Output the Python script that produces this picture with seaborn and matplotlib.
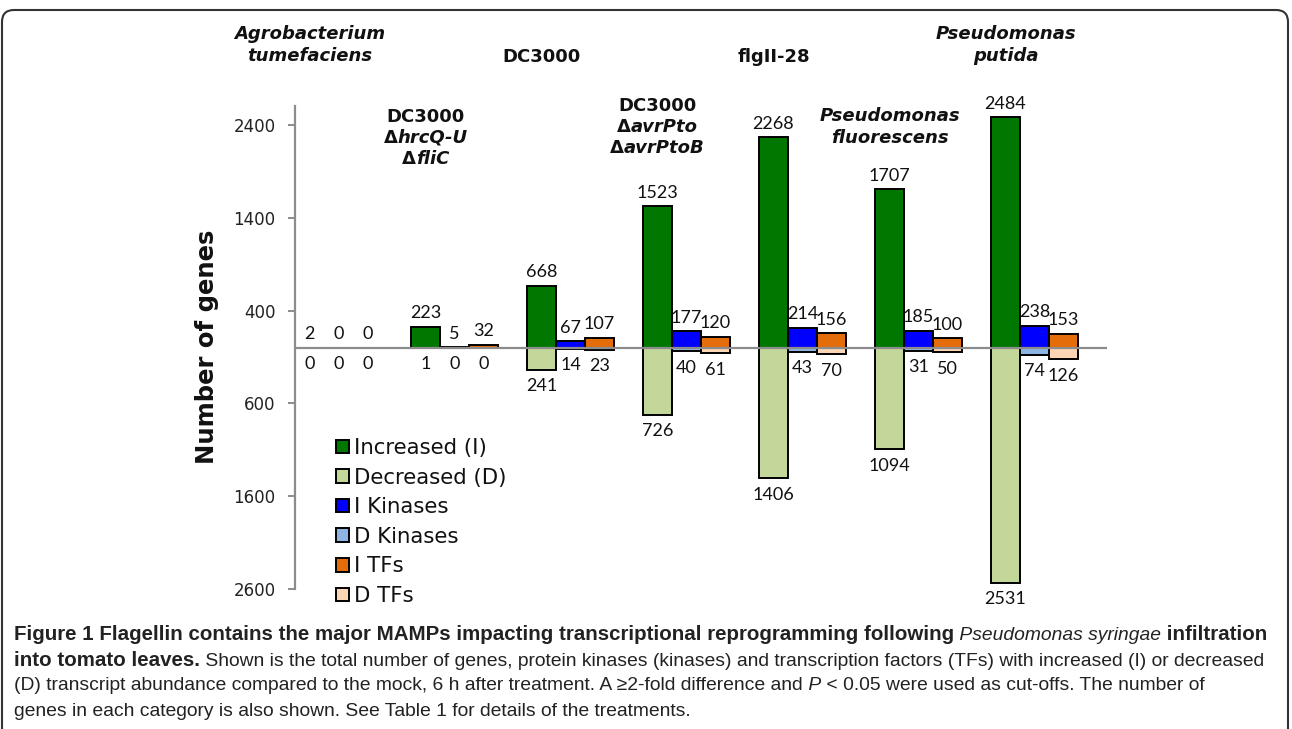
import pandas as pd
import matplotlib.pyplot as plt
import seaborn as sns
from matplotlib.patches import Patch, FancyBboxPatch
from matplotlib.transforms import IdentityTransform
from matplotlib.offsetbox import TextArea, HPacker, VPacker, AnnotationBbox

# Gene counts per treatment
treatments = ["Agrobacterium tumefaciens", "DC3000 ΔhrcQ-U ΔfliC", "DC3000",
              "DC3000 ΔavrPto ΔavrPtoB", "flgII-28", "Pseudomonas fluorescens",
              "Pseudomonas putida"]
increased = [2, 223, 668, 1523, 2268, 1707, 2484]
i_kinases = [0, 5, 67, 177, 214, 185, 238]
i_tfs = [0, 32, 107, 120, 156, 100, 153]
decreased = [0, 1, 241, 726, 1406, 1094, 2531]
d_kinases = [0, 0, 14, 40, 43, 31, 74]
d_tfs = [0, 0, 23, 61, 70, 50, 126]

up_series = ["Increased (I)", "I Kinases", "I TFs"]
down_series = ["Decreased (D)", "D Kinases", "D TFs"]
legend_order = ["Increased (I)", "Decreased (D)", "I Kinases", "D Kinases", "I TFs", "D TFs"]
colors = {"Increased (I)": "#007800", "Decreased (D)": "#c4d79b",
          "I Kinases": "#0000ff", "D Kinases": "#8db4e2",
          "I TFs": "#e46c0a", "D TFs": "#fcd5b5"}

# treatment headers: lines of (text, italic) pieces
header_lines = [
    [[("Agrobacterium", True)], [("tumefaciens", True)]],
    [[("DC3000", False)], [("Δ", False), ("hrcQ-U", True)], [("Δ", False), ("fliC", True)]],
    [[("DC3000", False)]],
    [[("DC3000", False)], [("Δ", False), ("avrPto", True)], [("Δ", False), ("avrPtoB", True)]],
    [[("flgII-28", False)]],
    [[("Pseudomonas", True)], [("fluorescens", True)]],
    [[("Pseudomonas", True)], [("putida", True)]],
]
header_y = [45, 138, 57, 127, 57, 127, 45]  # image px, block centre

caption_lines = [
    [("Figure 1 Flagellin contains the major MAMPs impacting transcriptional reprogramming following", "bold"),
     (" Pseudomonas syringae", "italic"), (" infiltration", "bold")],
    [("into tomato leaves.", "bold"),
     (" Shown is the total number of genes, protein kinases (kinases) and transcription factors (TFs) with increased (I) or decreased", "normal")],
    [("(D) transcript abundance compared to the mock, 6 h after treatment. A ≥2-fold difference and", "normal"),
     (" P", "italic"), (" < 0.05 were used as cut-offs. The number of", "normal")],
    [("genes in each category is also shown. See Table 1 for details of the treatments.", "normal")],
]

up_df = pd.DataFrame({
    "treatment": treatments * 3,
    "series": [s for s in up_series for _ in treatments],
    "value": increased + i_kinases + i_tfs,
})
down_df = pd.DataFrame({
    "treatment": treatments * 3,
    "series": [s for s in down_series for _ in treatments],
    "value": [-v for v in decreased + d_kinases + d_tfs],
})

sns.set_style("white")
plt.rcParams["font.family"] = ["DejaVu Sans"]

W, H = 1292, 729
fig = plt.figure(figsize=(W / 100, H / 100), dpi=100)
ax = fig.add_axes([295 / W, 140 / H, 812 / W, 482.6 / H])

for df, order in [(up_df, up_series), (down_df, down_series)]:
    sns.barplot(data=df, x="treatment", y="value", hue="series", order=treatments,
                hue_order=order, palette=[colors[s] for s in order], width=0.75, gap=0,
                errorbar=None, saturation=1, edgecolor="black", linewidth=1.4,
                legend=False, ax=ax)

for bar in ax.patches:
    if bar.get_height() == 0:
        bar.set_linewidth(0)

label_font = dict(family=["Lato", "DejaVu Sans"], fontsize=13, color="#111111")
for k, (cont, vals) in enumerate(zip(ax.containers,
                                     [increased, i_kinases, i_tfs, decreased, d_kinases, d_tfs])):
    for bar, v in zip(cont, vals):
        xc = bar.get_x() + bar.get_width() / 2
        h = bar.get_height()
        if k < 3:
            ax.annotate(str(v), (xc, h), xytext=(0, 4), textcoords="offset points",
                        ha="center", va="bottom", **label_font)
        else:
            ax.annotate(str(v), (xc, h), xytext=(0, -6), textcoords="offset points",
                        ha="center", va="top", **label_font)

ax.axhline(0, color="#8c8c8c", lw=1.6, zorder=5)
ax.set_xlim(-0.375, 6.625)
ax.set_ylim(-2600, 2600)
ax.set_yticks([-2600, -1600, -600, 400, 1400, 2400])
ax.set_yticklabels([str(abs(t)) for t in [-2600, -1600, -600, 400, 1400, 2400]])
ax.tick_params(axis="y", left=True, direction="out", length=5, width=1.4, color="#8c8c8c",
               pad=9, labelsize=12, labelcolor="#222222")
ax.set_xticks([])
ax.set_xlabel("")
ax.set_ylabel("")
for side in ["top", "right", "bottom"]:
    ax.spines[side].set_visible(False)
ax.spines["left"].set_color("#8c8c8c")
ax.spines["left"].set_linewidth(1.6)

fig.text(207 / W, (H - 347) / H, "Number of genes", rotation=90, ha="center", va="center",
         fontsize=17.5, fontweight="bold", color="#111111")

# treatment headers centred over the green bars
green = ax.containers[0]
for bar, lines, yy in zip(green, header_lines, header_y):
    rows = []
    for line in lines:
        pieces = [TextArea(t, textprops=dict(fontsize=13, fontweight="bold",
                                             fontstyle="italic" if it else "normal",
                                             color="#111111"))
                  for t, it in line]
        rows.append(HPacker(children=pieces, pad=0, sep=0, align="baseline"))
    box = VPacker(children=rows, pad=0, sep=2.5, align="center")
    ab = AnnotationBbox(box, (bar.get_x() + bar.get_width() / 2, H - yy),
                        xycoords=("data", "figure pixels"), frameon=False,
                        box_alignment=(0.5, 0.5), annotation_clip=False)
    ax.add_artist(ab)

handles = [Patch(facecolor=colors[s], edgecolor="black", linewidth=1.4) for s in legend_order]
fig.legend(handles, legend_order, loc="upper left", bbox_to_anchor=(336 / W, (H - 438) / H),
           frameon=False, fontsize=15.3, handlelength=0.6, handleheight=0.6,
           handletextpad=0.25, labelspacing=0.45, borderpad=0, borderaxespad=0,
           labelcolor="#111111")

# caption
cap_y = [634, 661, 686, 711]
cap_family = ["Liberation Sans", "DejaVu Sans"]
for line, yy in zip(caption_lines, cap_y):
    pieces = []
    for t, style in line:
        props = dict(fontsize=13.85, family=cap_family, color="#222222")
        if style == "bold":
            props["fontweight"] = "bold"
            props["fontsize"] = 14.75
        elif style == "italic":
            props["fontstyle"] = "italic"
        pieces.append(TextArea(t, textprops=props))
    box = HPacker(children=pieces, pad=0, sep=0, align="baseline")
    ab = AnnotationBbox(box, (14, H - yy), xycoords="figure pixels", frameon=False,
                        box_alignment=(0, 0.5), annotation_clip=False)
    fig.add_artist(ab)

border = FancyBboxPatch((2, -40), 1286, H - 10 + 40, boxstyle="round,pad=0,rounding_size=12",
                        transform=IdentityTransform(), facecolor="none", edgecolor="#333333",
                        linewidth=1.5)
fig.add_artist(border)

fig.savefig("out.png", dpi=100)
